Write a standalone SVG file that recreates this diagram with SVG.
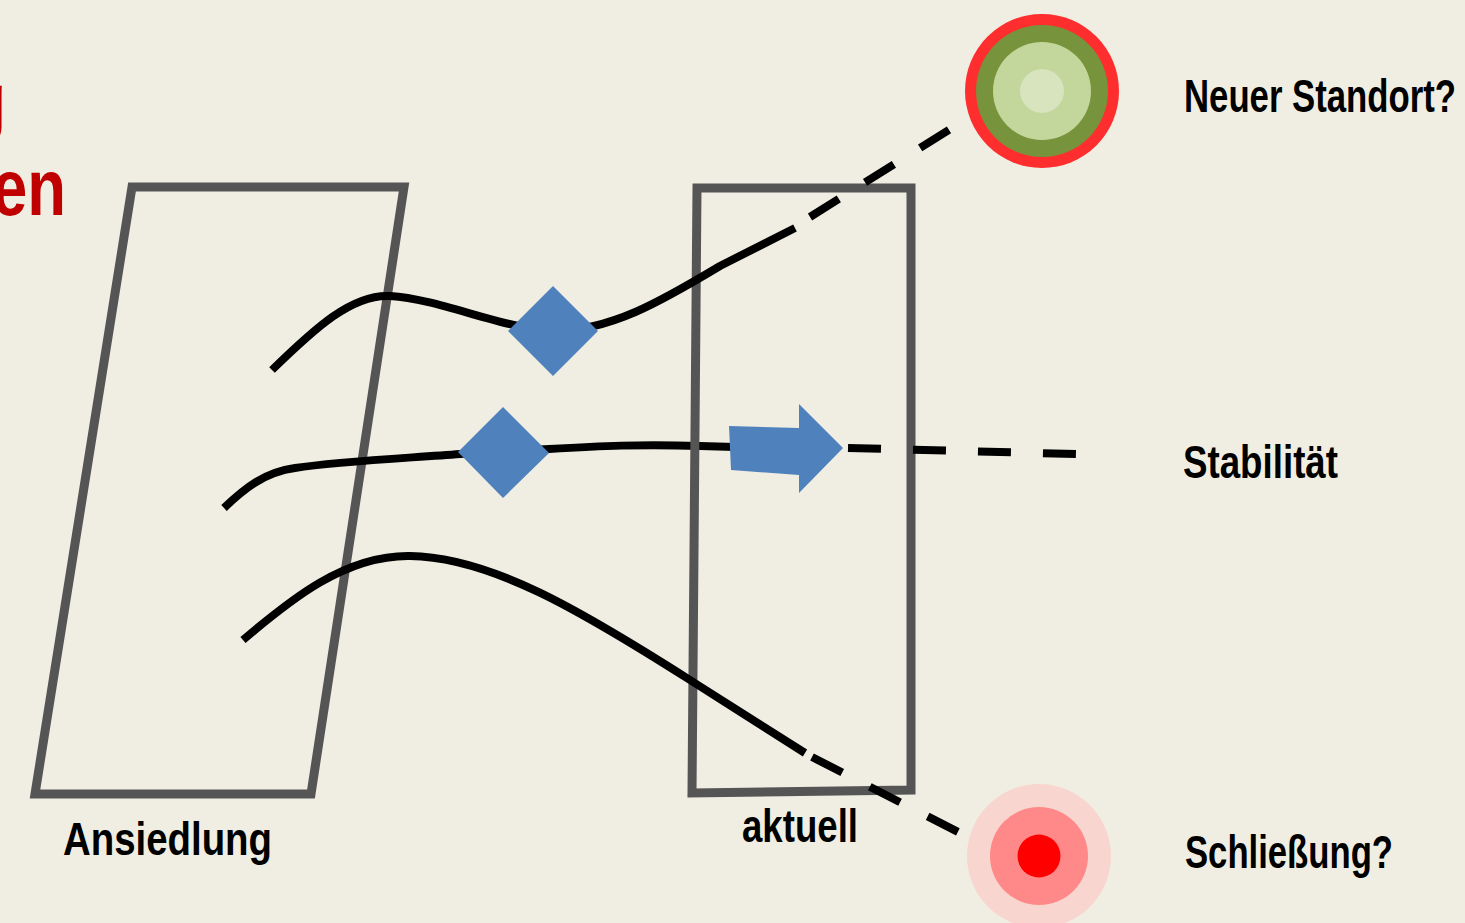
<svg xmlns="http://www.w3.org/2000/svg" width="1465" height="923" viewBox="0 0 1465 923">
<style>
.frame{fill:none;stroke:#555555;stroke-width:9;stroke-linejoin:miter}
.line{fill:none;stroke:#000000;stroke-width:8}
.dash{fill:none;stroke:#000000;stroke-width:8;stroke-dasharray:34 31}
.marker{fill:#4F81BD}
.lbl{font-family:"Liberation Sans",Arial,sans-serif;font-weight:bold;font-size:46px;fill:#000000}
.title{font-family:"Liberation Sans",Arial,sans-serif;font-weight:bold;font-size:80px;fill:#C00000}
</style>
<rect x="0" y="0" width="1465" height="923" fill="#F0EEE2"/>
<g id="title">
<text class="title" x="7" y="128" text-anchor="end">g</text>
<text class="title" x="-8" y="215" textLength="74" lengthAdjust="spacingAndGlyphs">en</text>
</g>
<g id="ansiedlung">
<polygon class="frame" points="132,187 404,187 311,794 35,794"/>
<text class="lbl" x="63" y="855" textLength="209" lengthAdjust="spacingAndGlyphs">Ansiedlung</text>
</g>
<g id="connectors">
<path class="line" d="M224,508 C245,488 265,472 295,468 C340,461 410,458 460,454 L549,449 C600,446 640,444 700,446 L735,447"/>
</g>
<g id="aktuell">
<polygon class="frame" points="697,188 911,188 911,790 692,793"/>
<text class="lbl" x="742" y="842" textLength="116" lengthAdjust="spacingAndGlyphs">aktuell</text>
</g>
<g id="connectors2">
<path class="line" d="M272,370 C315,328 352,294 390,296 C440,299 500,328 553,331 C610,331 660,302 720,266 L795,228"/>
<path class="dash" d="M810,217 L952,128"/>
<path class="dash" d="M848,448 L1076,454" style="stroke-dasharray:33 32"/>
<path class="line" d="M243,640 C290,600 345,555 410,556 C490,557 580,610 690,680 L805,753"/>
<path class="dash" d="M812,757 L962,834"/>
</g>
<g id="diamond1"><polygon class="marker" points="553,286 598,331 553,376 508,331"/></g>
<g id="diamond2"><polygon class="marker" points="503,407 549,453 503,498 458,452"/></g>
<g id="arrow"><polygon class="marker" points="729,426 799,428 799,404 843,448 799,493 799,475 731,470"/></g>
<g id="neuer-standort">
<circle cx="1042" cy="91" r="77" fill="#FF2E2E"/>
<circle cx="1042" cy="91" r="66" fill="#77933C"/>
<circle cx="1042" cy="91" r="49" fill="#C3D69B"/>
<circle cx="1042" cy="91" r="22" fill="#D7E4BD"/>
<text class="lbl" x="0" y="0" transform="translate(1184,112) scale(0.755,1)">Neuer Standort?</text>
</g>
<g id="stabilitaet">
<text class="lbl" x="1183" y="478" textLength="155" lengthAdjust="spacingAndGlyphs">Stabilität</text>
</g>
<g id="schliessung">
<circle cx="1039" cy="856" r="72" fill="#F8D5CE"/>
<circle cx="1039" cy="856" r="49" fill="#FF8888"/>
<circle cx="1039" cy="856" r="21.5" fill="#FF0000"/>
<text class="lbl" x="1185" y="868" textLength="208" lengthAdjust="spacingAndGlyphs">Schließung?</text>
</g>
</svg>
